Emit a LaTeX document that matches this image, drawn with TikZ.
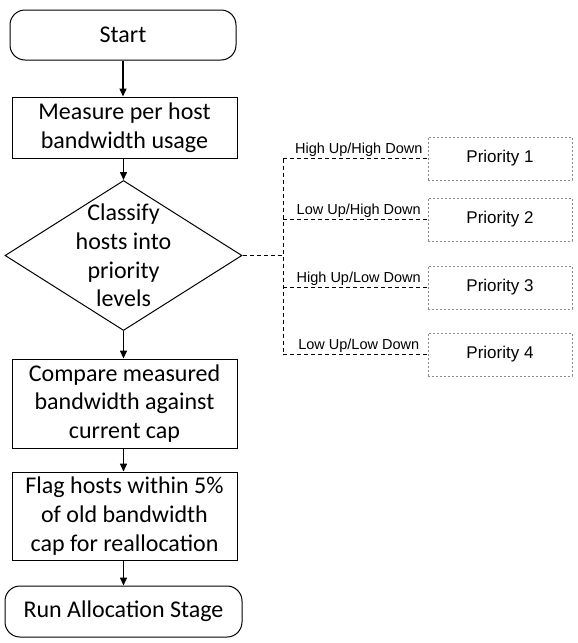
\documentclass[tikz,border=0pt]{standalone}
\usepackage{fontspec}
\setmainfont{Carlito}
\newfontfamily\arialf{Liberation Sans}
\usetikzlibrary{shapes.geometric,arrows.meta,calc}
\tikzset{
  base/.style={draw=black, line width=1pt, inner sep=0pt, align=center,
    font=\fontsize{24}{28.7}\selectfont},
  termbox/.style={base, rounded corners=15pt},
  procbox/.style={base},
  flowarrow/.style={line width=1.5pt, -{Triangle[length=8pt,width=7pt]}},
  branch/.style={line width=1pt, dash pattern=on 4pt off 3pt},
  prio/.style={draw=gray!90, line width=1pt, dash pattern=on 2pt off 2pt,
    minimum width=144pt, minimum height=43pt, inner sep=0pt,
    font=\arialf\fontsize{17}{19}\selectfont},
  blabel/.style={font=\arialf\fontsize{14.5}{16}\selectfont, anchor=base,
    inner sep=0pt, yshift=5pt, xshift=3.5pt}
}
\begin{document}
\begin{tikzpicture}[x=1pt,y=-1pt]
\useasboundingbox (0,0) rectangle (578,643);
\node[termbox, minimum width=226pt, minimum height=50pt] (start) at (123,35) {Start};
\node[procbox, minimum width=225pt, minimum height=61pt] (measure) at (124.5,127.5) {Measure per host\\bandwidth usage};
\node[draw=black, line width=1pt, shape=diamond, inner sep=0pt, minimum width=237pt, minimum height=150pt] (dia) at (123.5,255.5) {};
\node[align=center, inner sep=0pt, font=\fontsize{24}{28.7}\selectfont] (diatext) at (dia.center) {Classify\\hosts into\\priority\\levels};
\node[procbox, minimum width=225pt, minimum height=89pt] (compare) at (124.5,403.5) {Compare measured\\bandwidth against\\current cap};
\node[procbox, minimum width=225pt, minimum height=88pt] (flag) at (124.5,516) {Flag hosts within 5\%\\of old bandwidth\\cap for reallocation};
\node[termbox, minimum width=237pt, minimum height=51pt] (run) at (123.5,611.5) {Run Allocation Stage};

\draw[flowarrow] (start.south) -- (start.south |- measure.north);
\draw[flowarrow] (measure.south -| dia.north) -- (dia.north);
\draw[flowarrow] (dia.south) -- (dia.south |- compare.north);
\draw[flowarrow] (compare.south -| dia.south) -- (dia.south |- flag.north);
\draw[flowarrow] (flag.south -| dia.south) -- (dia.south |- run.north);

\node[prio] (p1) at (500,158.5) {Priority 1};
\node[prio] (p2) at (500,219.5) {Priority 2};
\node[prio] (p3) at (500,287.5) {Priority 3};
\node[prio] (p4) at (500,354.5) {Priority 4};

\coordinate (j) at (283,0);
\draw[branch] (dia.east) -- (dia.east -| j);
\draw[branch] (p1.west -| j) -- (p4.west -| j);
\draw[branch] (p1.west -| j) -- node[blabel] (l1) {High Up/High Down} (p1.west);
\draw[branch] (p2.west -| j) -- node[blabel] (l2) {Low Up/High Down} (p2.west);
\draw[branch] (p3.west -| j) -- node[blabel] (l3) {High Up/Low Down} (p3.west);
\draw[branch] (p4.west -| j) -- node[blabel] (l4) {Low Up/Low Down} (p4.west);
\end{tikzpicture}
\end{document}
